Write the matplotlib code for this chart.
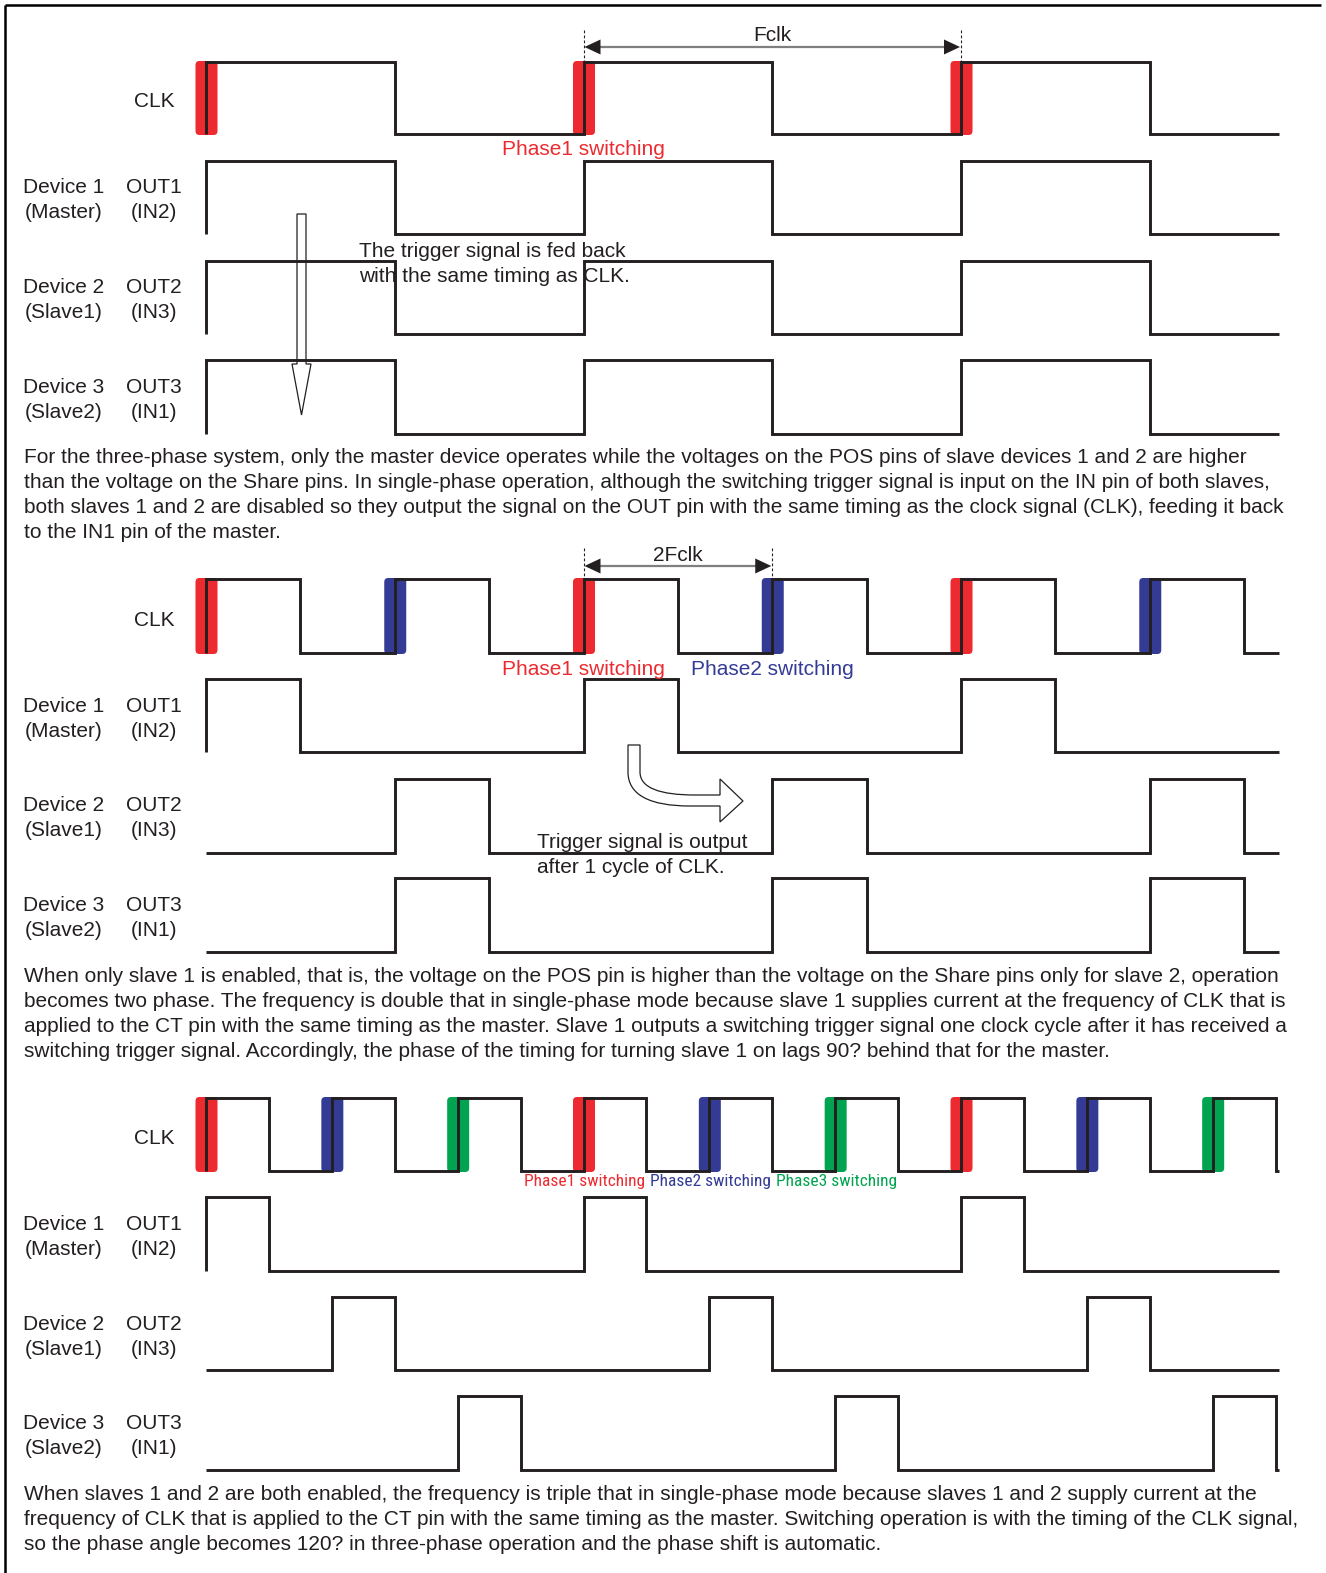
import matplotlib
matplotlib.use('Agg')
import matplotlib.pyplot as plt
from matplotlib.patches import FancyBboxPatch, Polygon, PathPatch
from matplotlib.path import Path
from matplotlib import font_manager as fm

# ---------------- data ----------------
# signal levels per slot (slot = 1/2, 1/4, 1/6 of one Fclk cycle)
slots_per_cycle = [2, 4, 6]

clk_1 = [1, 0, 1, 0, 1, 0]
out1_1 = [1, 0, 1, 0, 1, 0]
out2_1 = [1, 0, 1, 0, 1, 0]
out3_1 = [1, 0, 1, 0, 1, 0]

clk_2 = [1, 0, 1, 0, 1, 0, 1, 0, 1, 0, 1, 0]
out1_2 = [1, 0, 0, 0, 1, 0, 0, 0, 1, 0, 0, 0]
out2_2 = [0, 0, 1, 0, 0, 0, 1, 0, 0, 0, 1, 0]
out3_2 = [0, 0, 1, 0, 0, 0, 1, 0, 0, 0, 1, 0]

clk_3 = [1, 0, 1, 0, 1, 0, 1, 0, 1, 0, 1, 0, 1, 0, 1, 0, 1, 0]
out1_3 = [1, 0, 0, 0, 0, 0, 1, 0, 0, 0, 0, 0, 1, 0, 0, 0, 0, 0]
out2_3 = [0, 0, 1, 0, 0, 0, 0, 0, 1, 0, 0, 0, 0, 0, 1, 0, 0, 0]
out3_3 = [0, 0, 0, 0, 1, 0, 0, 0, 0, 0, 1, 0, 0, 0, 0, 0, 1, 0]

# phase owning each CLK rising edge
phase_1 = [1, 1, 1]
phase_2 = [1, 2, 1, 2, 1, 2]
phase_3 = [1, 2, 3, 1, 2, 3, 1, 2, 3]

clk_label = 'CLK'
dev_labels = [('Device 1', '(Master)'), ('Device 2', '(Slave1)'), ('Device 3', '(Slave2)')]
pin_labels = [('OUT1', '(IN2)'), ('OUT2', '(IN3)'), ('OUT3', '(IN1)')]
phase_names = ['Phase1 switching', 'Phase2 switching', 'Phase3 switching']

para_1 = [
    "For the three-phase system, only the master device operates while the voltages on the POS pins of slave devices 1 and 2 are higher",
    "than the voltage on the Share pins. In single-phase operation, although the switching trigger signal is input on the IN pin of both slaves,",
    "both slaves 1 and 2 are disabled so they output the signal on the OUT pin with the same timing as the clock signal (CLK), feeding it back",
    "to the IN1 pin of the master.",
]
para_2 = [
    "When only slave 1 is enabled, that is, the voltage on the POS pin is higher than the voltage on the Share pins only for slave 2, operation",
    "becomes two phase. The frequency is double that in single-phase mode because slave 1 supplies current at the frequency of CLK that is",
    "applied to the CT pin with the same timing as the master. Slave 1 outputs a switching trigger signal one clock cycle after it has received a",
    "switching trigger signal. Accordingly, the phase of the timing for turning slave 1 on lags 90? behind that for the master.",
]
para_3 = [
    "When slaves 1 and 2 are both enabled, the frequency is triple that in single-phase mode because slaves 1 and 2 supply current at the",
    "frequency of CLK that is applied to the CT pin with the same timing as the master. Switching operation is with the timing of the CLK signal,",
    "so the phase angle becomes 120? in three-phase operation and the phase shift is automatic.",
]

# ---------------- layout ----------------
W, H = 1326, 1573
X0, CYC, XEND = 206.0, 377.5, 1279.0
INK = '#231f20'
PCOL = {1: '#ec2a30', 2: '#333b95', 3: '#00a34f'}
FONT = ['Liberation Sans', 'DejaVu Sans']
FS = 15

names = {f.name for f in fm.fontManager.ttflist}
narrow = None
for n in ['Liberation Sans Narrow', 'Arial Narrow', 'Roboto Condensed', 'Open Sans Condensed']:
    if n in names:
        narrow = n
        break

fig = plt.figure(figsize=(W / 100 + 0.0001, H / 100 + 0.0001), dpi=100)
ax = fig.add_axes([0, 0, 1, 1])
ax.set_xlim(0, W)
ax.set_ylim(H, 0)
ax.axis('off')

# frame (top and left)
ax.plot([5, 1321], [5, 5], color='black', lw=1.8, solid_capstyle='butt')
ax.plot([5, 5], [5, H], color='black', lw=1.8, solid_capstyle='butt')


def wave(levels, spc, y_hi, y_lo):
    dt = CYC / spc
    xs, ys = [X0], [y_lo]
    for i, l in enumerate(levels):
        xa = X0 + i * dt
        if xa >= XEND:
            break
        xb = min(X0 + (i + 1) * dt, XEND)
        y = y_hi if l else y_lo
        xs += [xa, xb]
        ys += [y, y]
    ax.plot(xs, ys, color=INK, lw=2.1, solid_joinstyle='miter', solid_capstyle='butt', zorder=3)


def bars(levels, spc, phases, y_hi, y_lo):
    dt = CYC / spc
    k = 0
    for i, l in enumerate(levels):
        if l == 1 and (i == 0 or levels[i - 1] == 0):
            xe = X0 + i * dt
            p = FancyBboxPatch((xe - 9.5, y_hi), 20, y_lo - y_hi,
                               boxstyle='round,pad=1,rounding_size=4',
                               fc=PCOL[phases[k]], ec='none', zorder=2)
            ax.add_patch(p)
            k += 1


def txt(x, y, s, ha='left', color=INK, fs=FS, family=None, **kw):
    return ax.text(x, y, s, ha=ha, va='baseline', color=color, fontsize=fs,
                   family=family or FONT, **kw)


def labels(clk_base, dev_bases):
    txt(175, clk_base, clk_label, ha='right')
    for (d1, d2), (p1, p2), b in zip(dev_labels, pin_labels, dev_bases):
        txt(64, b, d1, ha='center')
        txt(64, b + 25, d2, ha='center')
        txt(154, b, p1, ha='center')
        txt(154, b + 25, p2, ha='center')


def span_arrow(xa, xb, y, label, label_base, ytop, ybot):
    for xx in (xa, xb):
        ax.plot([xx, xx], [ytop, ybot], color=INK, lw=0.8, ls=(0, (2.5, 2)), zorder=3)
    ax.plot([xa + 10, xb - 10], [y, y], color='#7f7f7f', lw=1.6, zorder=3)
    ax.add_patch(Polygon([(xa + 1, y), (xa + 17, y - 7.5), (xa + 17, y + 7.5)], closed=True, fc=INK, ec='none', zorder=4))
    ax.add_patch(Polygon([(xb - 1, y), (xb - 17, y - 7.5), (xb - 17, y + 7.5)], closed=True, fc=INK, ec='none', zorder=4))
    txt((xa + xb) / 2, label_base, label, ha='center')


def para(lines, base0):
    for i, s in enumerate(lines):
        txt(24, base0 + 25 * i, s)


# ---------------- section 1 ----------------
rows1 = [(62, 134), (161, 234), (261, 334), (360, 434)]
bars(clk_1, slots_per_cycle[0], phase_1, *rows1[0])
for lv, (hi, lo) in zip([clk_1, out1_1, out2_1, out3_1], rows1):
    wave(lv, slots_per_cycle[0], hi, lo)
labels(107, [193, 293, 393])
span_arrow(X0 + CYC, X0 + 2 * CYC, 47, 'Fclk', 41, 30, 62)
txt(502, 155, phase_names[0], color=PCOL[1])
ax.add_patch(Polygon([(297, 214), (306, 214), (306, 364), (311, 364), (301.5, 415), (292, 364), (297, 364)],
                     closed=True, fill=False, ec=INK, lw=0.9, zorder=4))
txt(359, 257, 'The trigger signal is fed back')
txt(359, 282, 'with the same timing as CLK.')
para(para_1, 463)

# ---------------- section 2 ----------------
rows2 = [(579, 653), (679, 752), (779, 853), (878, 952)]
bars(clk_2, slots_per_cycle[1], phase_2, *rows2[0])
for lv, (hi, lo) in zip([clk_2, out1_2, out2_2, out3_2], rows2):
    wave(lv, slots_per_cycle[1], hi, lo)
labels(626, [712, 811, 911])
span_arrow(X0 + CYC, X0 + 1.5 * CYC, 566, '2Fclk', 561, 548, 579)
txt(502, 675, phase_names[0], color=PCOL[1])
txt(691, 675, phase_names[1], color=PCOL[2])
verts = [(628, 745), (628, 772), (628, 795), (650, 806), (690, 806), (720, 806), (720, 822), (743, 801),
         (720, 779), (720, 795), (695, 795), (660, 795), (640, 788), (640, 772), (640, 745), (628, 745)]
codes = [Path.MOVETO, Path.LINETO, Path.CURVE4, Path.CURVE4, Path.CURVE4, Path.LINETO, Path.LINETO, Path.LINETO,
         Path.LINETO, Path.LINETO, Path.LINETO, Path.CURVE4, Path.CURVE4, Path.CURVE4, Path.LINETO, Path.CLOSEPOLY]
ax.add_patch(PathPatch(Path(verts, codes), fc='white', ec=INK, lw=0.9, zorder=4))
txt(537, 848, 'Trigger signal is output')
txt(537, 873, 'after 1 cycle of CLK.')
para(para_2, 982)

# ---------------- section 3 ----------------
rows3 = [(1098, 1171), (1197, 1271), (1297, 1370), (1396, 1470)]
bars(clk_3, slots_per_cycle[2], phase_3, *rows3[0])
for lv, (hi, lo) in zip([clk_3, out1_3, out2_3, out3_3], rows3):
    wave(lv, slots_per_cycle[2], hi, lo)
labels(1144, [1230, 1330, 1429])
nf = [narrow, 'DejaVu Sans'] if narrow else FONT
renderer = fig.canvas.get_renderer()
for i, xs in enumerate([524, 650, 776]):
    t = txt(xs, 1186, phase_names[i], color=PCOL[i + 1], fs=FS, family=nf)
    w = t.get_window_extent(renderer).width
    t.set_fontsize(FS * 121.0 / w)
para(para_3, 1500)

fig.savefig('out.png', dpi=100)
